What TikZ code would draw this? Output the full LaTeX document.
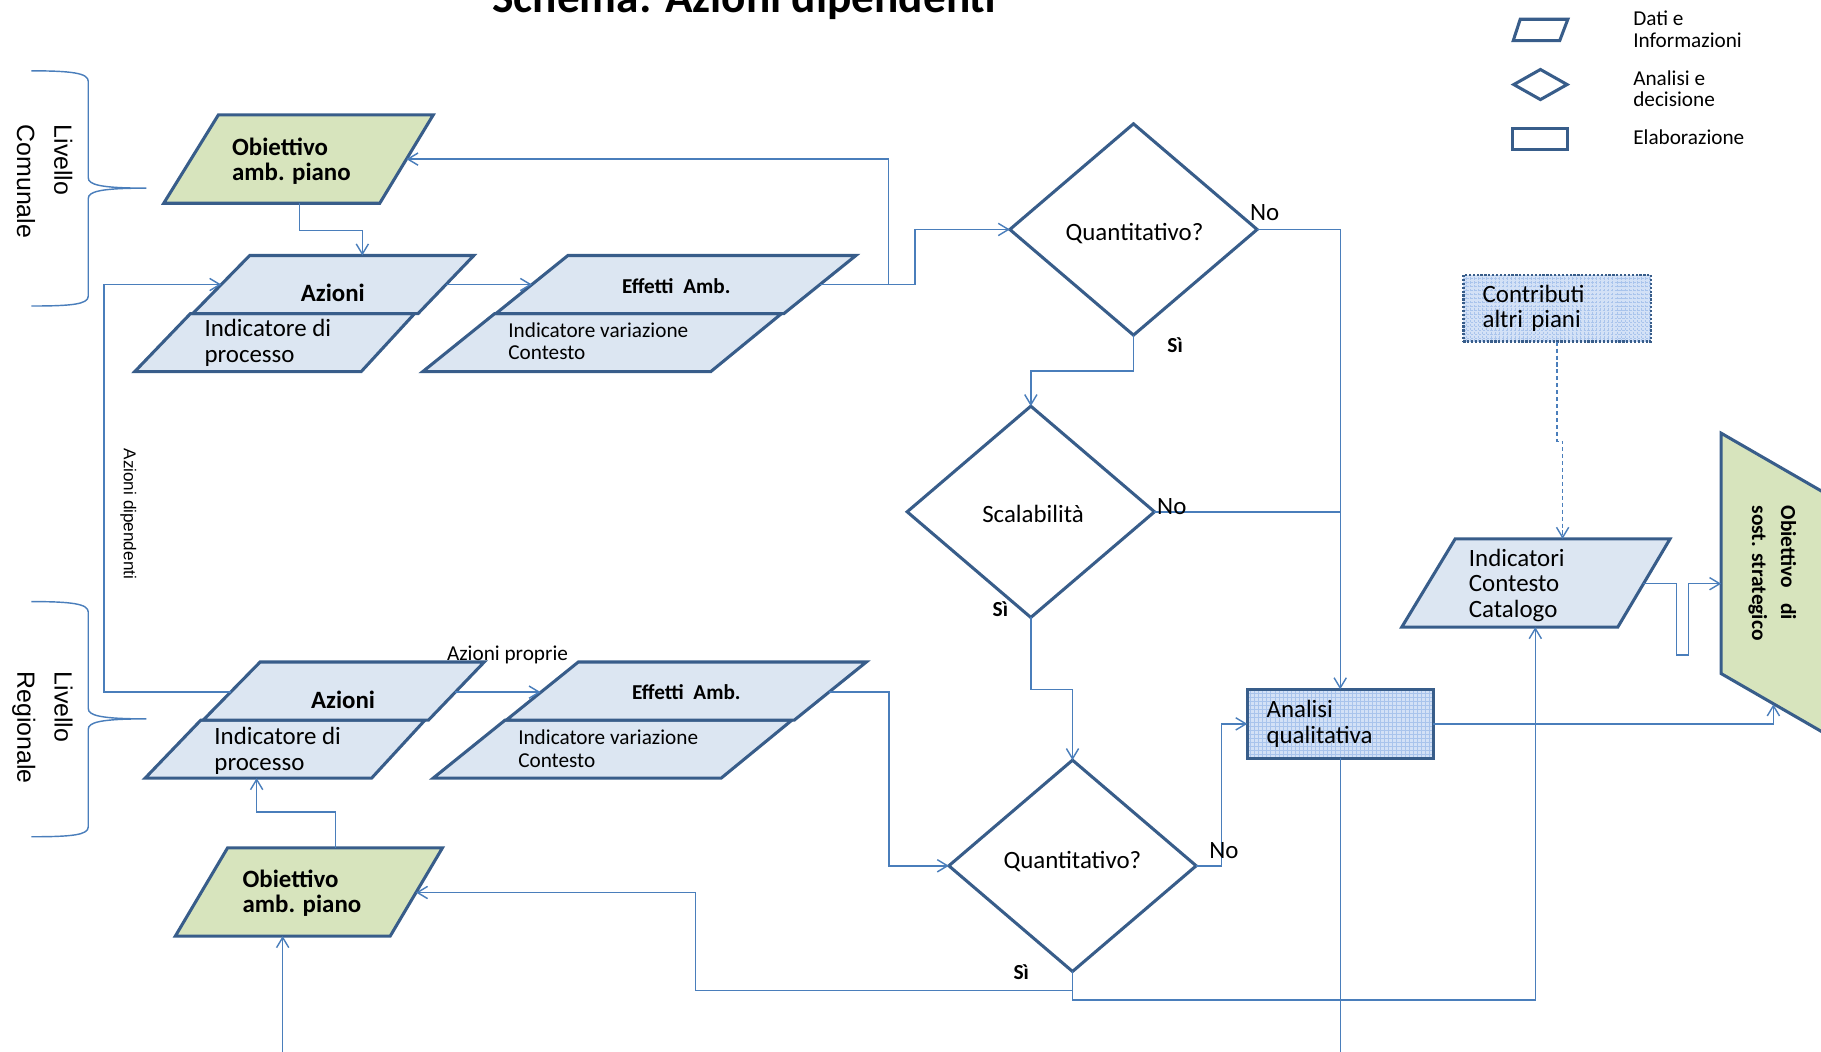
\documentclass[tikz,border=0pt]{standalone}
\usepackage{fontspec}
\setmainfont{Carlito}
\newfontfamily\arialfam{Liberation Sans}
\usetikzlibrary{arrows.meta,shapes.geometric}
\definecolor{edgeblue}{HTML}{385D8A}
\definecolor{linkblue}{HTML}{4A7EBB}
\definecolor{datafill}{HTML}{DCE6F2}
\definecolor{goalfill}{HTML}{D7E4BD}
\definecolor{gridfill}{HTML}{D3E1F6}
\definecolor{gridline}{HTML}{A9C4EC}
\newcommand{\fmain}{\fontsize{12.2}{12.6}\selectfont}
\newcommand{\fsmall}{\fontsize{10.4}{10.8}\selectfont}

\begin{document}
\begin{tikzpicture}[x=0.02cm, y=-0.02cm,
  shapeedge/.style={draw=edgeblue, line width=1.5pt},
  datashape/.style={shapeedge, fill=datafill},
  goalshape/.style={shapeedge, fill=goalfill},
  link/.style={draw=linkblue, line width=0.7pt},
  arrowlink/.style={link, -{Straight Barb[length=5pt,width=6pt]}},
  decision/.style={diamond, shapeedge, fill=white, minimum width=4.26cm,
    minimum height=3.64cm, inner sep=0pt, outer sep=0pt},
  gridbox/.style={rectangle, shapeedge, fill=gridfill, outer sep=0pt,
    path picture={\draw[gridline, line width=0.2pt, step=0.07cm]
      (path picture bounding box.south west) grid (path picture bounding box.north east);}},
  txtlbl/.style={inner sep=0pt, text=black, font=\fmain},
  textblock/.style={txtlbl, align=left, anchor=west},
  answer/.style={inner sep=0pt, text=black, font=\fontsize{10.5}{11}\selectfont\bfseries},
  legendtxt/.style={inner sep=0pt, text=black, align=left, anchor=west,
    font=\fontsize{10.4}{10.7}\selectfont},
]
\useasboundingbox (0,0) rectangle (1568,905);
\clip (0,0) rectangle (1568,905);

% ---------- title ----------
\node[inner sep=0pt, anchor=base, font=\fontsize{22.2}{26}\selectfont\bfseries] (title)
  at (641,11) {Schema: Azioni dipendenti};

% ---------- level braces ----------
\draw[link] (27,61) .. controls (62,61) and (76,63) .. (76,70) -- (76,153)
  .. controls (76,159) and (86,162) .. (126,162)
  .. controls (86,162) and (76,165) .. (76,171) -- (76,255)
  .. controls (76,262) and (62,263.5) .. (27,263.5);
\draw[link] (27,518) .. controls (62,518) and (76,520) .. (76,527) -- (76,610)
  .. controls (76,616) and (86,619) .. (126,619)
  .. controls (86,619) and (76,622) .. (76,628) -- (76,712)
  .. controls (76,719) and (62,720.5) .. (27,720.5);
\node[rotate=-90, anchor=west, align=left, inner sep=0pt,
  font=\arialfam\fontsize{12.2}{18.3}\selectfont] (levC) at (38.5,107) {Livello\\Comunale};
\node[rotate=-90, anchor=west, align=left, inner sep=0pt,
  font=\arialfam\fontsize{12.2}{18.3}\selectfont] (levR) at (36.5,578) {Livello\\Regionale};

% ---------- legend ----------
\draw[shapeedge] (1309,16.6) -- (1350,16.6) -- (1343,35) -- (1303,35) -- cycle;
\node[diamond, shapeedge, minimum width=0.94cm, minimum height=0.54cm, inner sep=0pt]
  (lgD) at (1326.4,72.8) {};
\node[rectangle, shapeedge, minimum width=0.94cm, minimum height=0.37cm, inner sep=0pt]
  (lgR) at (1326.2,119.8) {};
\node[legendtxt] (lgT1) at (1406,25.1) {Dati e\\Informazioni};
\node[legendtxt] (lgT2) at (1406,76.4) {Analisi e\\decisione};
\node[legendtxt] (lgT3) at (1406,118) {Elaborazione};

% ---------- municipal level ----------
\draw[goalshape] (188,99) -- (373,99) -- (327,175) -- (141,175) -- cycle;
\node[textblock, font=\fontsize{12.2}{12.3}\selectfont\bfseries] (obC) at (199.5,139) {Obiettivo\\amb. piano};

\draw[datashape] (164,270) -- (357,270) -- (311,320) -- (116,320) -- cycle;
\draw[datashape] (215,220) -- (408,220) -- (360,270) -- (166,270) -- cycle;
\node[txtlbl, font=\fmain\bfseries] (azC) at (286.6,252.3) {Azioni};
\node[textblock] (azCi) at (175.8,295.5) {Indicatore di\\processo};

\draw[datashape] (426,270) -- (673,270) -- (612,320) -- (364,320) -- cycle;
\draw[datashape] (489,220) -- (737,220) -- (675,270) -- (427,270) -- cycle;
\node[txtlbl, font=\fsmall\bfseries] (efC) at (582.3,246.4) {Effetti\ \ Amb.};
\node[textblock, font=\fsmall] (efCi) at (437.4,294) {Indicatore variazione\\Contesto};

% ---------- regional level ----------
\draw[datashape] (173,620) -- (366,620) -- (320,670) -- (125,670) -- cycle;
\draw[datashape] (224,570) -- (417,570) -- (369,620) -- (175,620) -- cycle;
\node[txtlbl, font=\fmain\bfseries] (azR) at (295.4,602.2) {Azioni};
\node[textblock] (azRi) at (184.3,646.3) {Indicatore di\\processo};

\draw[datashape] (435,620) -- (682,620) -- (621,670) -- (373,670) -- cycle;
\draw[datashape] (498,570) -- (746,570) -- (684,620) -- (436,620) -- cycle;
\node[txtlbl, font=\fsmall\bfseries] (efR) at (591,596) {Effetti\ \ Amb.};
\node[textblock, font=\fsmall] (efRi) at (445.9,644.7) {Indicatore variazione\\Contesto};

\draw[goalshape] (196,730) -- (381,730) -- (336,806) -- (151,806) -- cycle;
\node[textblock, font=\fontsize{12.2}{12.3}\selectfont\bfseries] (obR) at (208.6,769.3) {Obiettivo\\amb. piano};

% ---------- decisions ----------
\node[decision] (q1) at (976,197.6) {};
\node[txtlbl] (q1t) at (976.9,201.2) {Quantitativo?};
\node[decision] (sc) at (887.6,440.7) {};
\node[txtlbl] (sct) at (889.5,442.7) {Scalabilità};
\node[decision] (q2) at (923.5,745.5) {};
\node[txtlbl] (q2t) at (923.4,742) {Quantitativo?};

% ---------- processing, context data, strategic goal ----------
\node[gridbox, minimum width=3.2cm, minimum height=1.19cm, inner xsep=0.332cm,
  text width=2.536cm, align=left, font=\fmain] (aq) at (1154,623.3) {Analisi\\qualitativa};
\node[gridbox, draw=edgeblue, dash pattern=on 1.1pt off 0.8pt, line width=1.4pt,
  minimum width=3.232cm, minimum height=1.148cm, inner xsep=0.332cm,
  text width=2.568cm, align=left, font=\fmain] (ca) at (1340.8,265.5) {Contributi\\altri piani};

\draw[datashape] (1253,464) -- (1438,464) -- (1393,540) -- (1207,540) -- cycle;
\node[textblock] (ic) at (1264.5,504) {Indicatori\\Contesto\\Catalogo};

\draw[goalshape] (1482,373) -- (1700,498.8) -- (1700,705.8) -- (1482,580) -- cycle;
\node[rotate=-90, anchor=north west, align=left, inner sep=0pt,
  font=\fontsize{10.5}{14.2}\selectfont\bfseries] (os) at (1547,435)
  {Obiettivo\hspace{0.7em}di\\sost. strategico};

% ---------- connection points on the data shapes ----------
\coordinate (obC-out) at (258,175);
\coordinate (obC-in) at (350,137);
\coordinate (azC-top) at (312,220);
\coordinate (azC-in) at (190.5,245);
\coordinate (azC-out) at (384,245);
\coordinate (efC-in) at (458,245);
\coordinate (efC-out) at (706,245);
\coordinate (jC) at (765,245);
\coordinate (jC2) at (788,245);

\coordinate (azR-in) at (198.5,596);
\coordinate (azR-out) at (392,596);
\coordinate (azR-bot) at (221,670);
\coordinate (efR-in) at (465.5,596);
\coordinate (efR-out) at (714,596);
\coordinate (jR) at (765.5,596);
\coordinate (obR-top) at (289,730);
\coordinate (obR-in) at (358.2,768.5);
\coordinate (obR-bot) at (243.4,806);
\coordinate (jL) at (89.4,596);
\coordinate (jS) at (599,768.5);

\coordinate (ic-top) at (1345.5,464);
\coordinate (ic-bot) at (1322,540);
\coordinate (ic-out) at (1415,502.6);
\coordinate (os-in1) at (1482,502.6);
\coordinate (os-in2) at (1527,606.5);

\coordinate (endA) at (243.4,920);
\coordinate (endB) at (1154,920);

% ---------- connectors: municipal level ----------
\draw[arrowlink] (obC-out) -- ++(0,23.5) -| (azC-top);
\draw[arrowlink] (azC-out) -- (efC-in);
\draw[arrowlink] (efC-out) -- (jC) |- (obC-in);
\draw[arrowlink] (jC) -- (jC2) |- (q1.west);

% ---------- connectors: decisions ----------
\draw[arrowlink] (q1.east) -| (aq.north);
\draw[link] (sc.east) -- (sc.east -| aq.north);
\draw[arrowlink] (q1.south) -- ++(0,31) -| (sc.north);
\draw[arrowlink] (sc.south) -- ++(0,62) -| (q2.north);
\draw[arrowlink] (q2.east) -- ++(22,0) |- (aq.west);
\draw[arrowlink] (q2.south) -- ++(0,16.5) coordinate (jQ) -| (jS) -- (obR-in);
\draw[arrowlink] (jQ) -- ++(0,8) -| (ic-bot);

% ---------- connectors: regional level ----------
\draw[arrowlink] (azR-in) -- (jL) |- (azC-in);
\node[rotate=-90, inner sep=0pt, font=\arialfam\fontsize{8.4}{10}\selectfont] (adip)
  at (110.5,442.5) {Azioni dipendenti};
\draw[arrowlink] (azR-out) -- (efR-in);
\node[inner sep=0pt, font=\fsmall] (apro) at (437,564) {Azioni proprie};
\draw[arrowlink] (efR-out) -- (jR) |- (q2.west);
\draw[arrowlink] (obR-top) -- ++(0,-31) -| (azR-bot);
\draw[arrowlink] (endA) -- (obR-bot);

% ---------- connectors: right part ----------
\draw[link] (aq.south) -- (endB);
\draw[arrowlink] (aq.east) -| (os-in2);
\draw[arrowlink] (ic-out) -- (1443.5,502.6) -- (1443.5,564) -- (1454,564)
  -- (1454,502.6) -- (os-in1);
\draw[arrowlink, dash pattern=on 2pt off 1.4pt] (ca.south) |- (1345.5,380) -- (ic-top);

% ---------- answer labels ----------
\node[txtlbl] (n1) at (1089,183) {No};
\node[answer] (s1) at (1011.8,297.5) {Sì};
\node[txtlbl] (n2) at (1009,436) {No};
\node[answer] (s2) at (861.4,524.5) {Sì};
\node[txtlbl] (n3) at (1053.8,732.5) {No};
\node[answer] (s3) at (879.4,837) {Sì};
\end{tikzpicture}
\end{document}
